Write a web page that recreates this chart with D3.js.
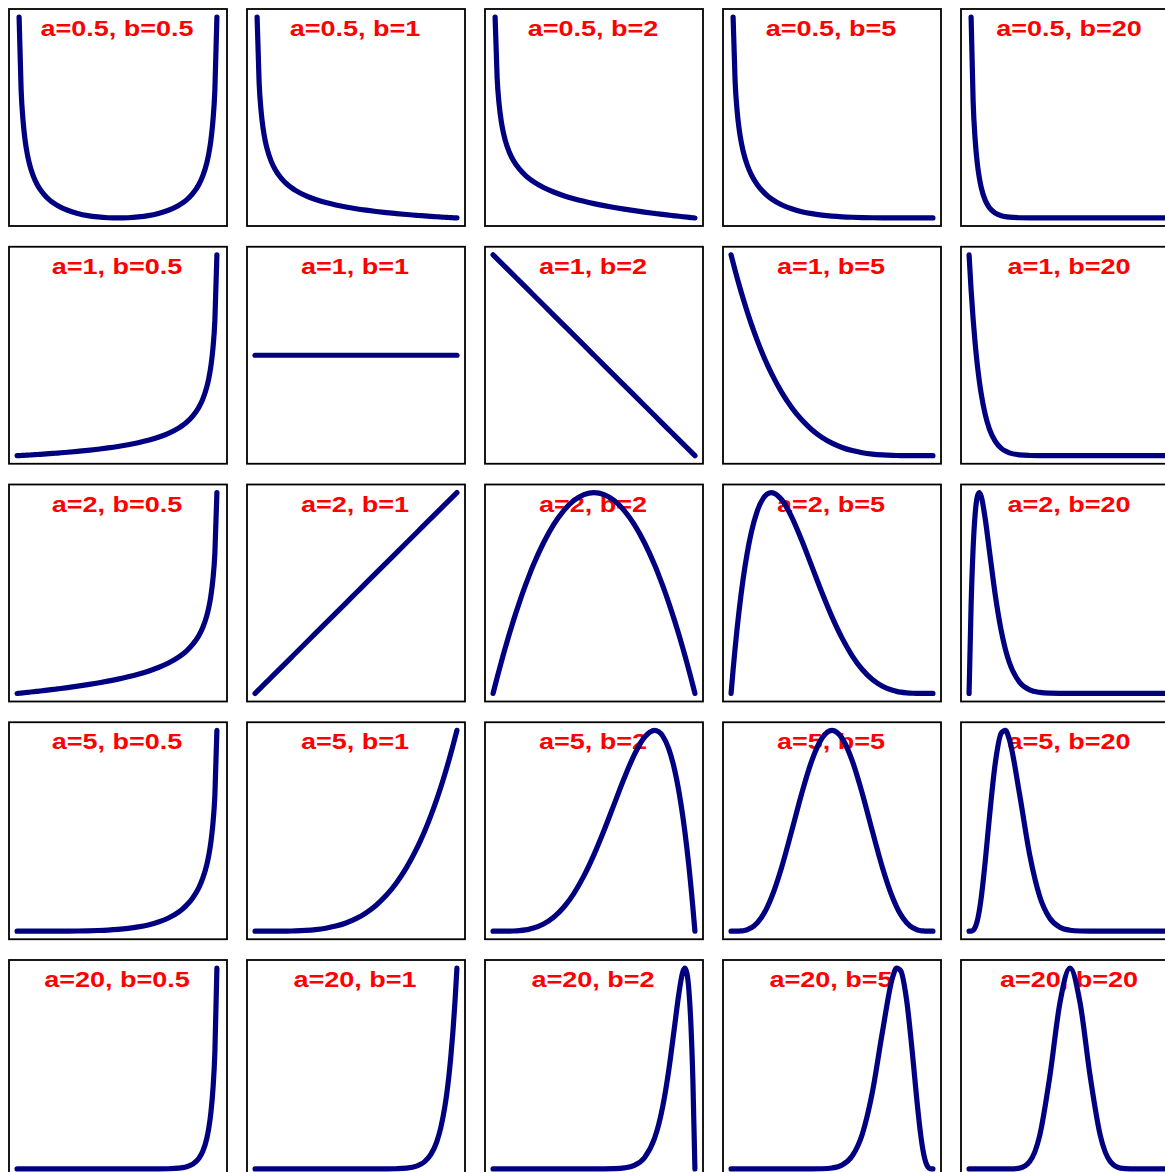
<!DOCTYPE html>
<html><head><meta charset="utf-8">
<script src="https://cdn.jsdelivr.net/npm/d3@7"></script>
<style>html,body{margin:0;padding:0;background:#fff}</style>
</head><body><svg id="chart" width="1165" height="1172"></svg>
<script>
// x positions where each density was read
const xGrid = [0,0.01,0.02,0.03,0.04,0.05,0.06,0.08,0.10,0.13,0.16,0.18,0.20,0.25,0.30,0.35,0.40,0.45,0.50,0.55,0.60,0.65,0.70,0.75,0.80,0.82,0.84,0.87,0.90,0.92,0.94,0.95,0.96,0.97,0.98,0.99,1];
const aValues = ["0.5","1","2","5","20"];
const bValues = ["0.5","1","2","5","20"];

// row a=0.5
const dens_a05_b05 = [null,3.199,2.274,1.866,1.624,1.461,1.340,1.173,1.061,0.947,0.868,0.829,0.796,0.735,0.695,0.667,0.650,0.640,0.637,0.640,0.650,0.667,0.695,0.735,0.796,0.829,0.868,0.947,1.061,1.173,1.340,1.461,1.624,1.866,2.274,3.199,null];
const dens_a05_b1 = [null,5.0,3.536,2.887,2.5,2.236,2.041,1.768,1.581,1.387,1.25,1.179,1.118,1.0,0.913,0.845,0.791,0.745,0.707,0.674,0.645,0.620,0.598,0.577,0.559,0.552,0.546,0.536,0.527,0.521,0.516,0.513,0.510,0.508,0.505,0.503,0.5];
const dens_a05_b2 = [null,7.425,5.197,4.200,3.600,3.186,2.878,2.440,2.134,1.810,1.575,1.450,1.342,1.125,0.959,0.824,0.711,0.615,0.530,0.455,0.387,0.326,0.269,0.217,0.168,0.149,0.131,0.105,0.079,0.063,0.046,0.038,0.031,0.023,0.015,0.0075,0];
const dens_a05_b5 = [null,11.82,8.026,6.290,5.225,4.482,3.921,3.117,2.553,1.956,1.532,1.311,1.127,0.779,0.539,0.371,0.252,0.168,0.109,0.068,0.0407,0.0229,0.0119,0.0056,0.0022,0.0014,0.0009,0.0004,0.0001,0.00005,0.00002,0.00001,0,0,0,0,0];
const dens_a05_b20 = [null,20.72,12.08,8.116,5.772,4.232,3.159,1.818,1.071,0.493,0.228,0.136,0.0808,0.0212,0.0052,0.0012,0.00024,0.00004,0.00001,0,0,0,0,0,0,0,0,0,0,0,0,0,0,0,0,0,0];
// row a=1
const dens_a1_b05 = [0.5,0.503,0.505,0.508,0.510,0.513,0.516,0.521,0.527,0.536,0.546,0.552,0.559,0.577,0.598,0.620,0.645,0.674,0.707,0.745,0.791,0.845,0.913,1.0,1.118,1.179,1.25,1.387,1.581,1.768,2.041,2.236,2.5,2.887,3.536,5.0,null];
const dens_a1_b1 = [1,1,1,1,1,1,1,1,1,1,1,1,1,1,1,1,1,1,1,1,1,1,1,1,1,1,1,1,1,1,1,1,1,1,1,1,1];
const dens_a1_b2 = [2,1.98,1.96,1.94,1.92,1.90,1.88,1.84,1.80,1.74,1.68,1.64,1.60,1.50,1.40,1.30,1.20,1.10,1.00,0.90,0.80,0.70,0.60,0.50,0.40,0.36,0.32,0.26,0.20,0.16,0.12,0.10,0.08,0.06,0.04,0.02,0];
const dens_a1_b5 = [5,4.803,4.612,4.427,4.247,4.073,3.904,3.582,3.281,2.865,2.490,2.261,2.048,1.582,1.201,0.893,0.648,0.458,0.3125,0.205,0.128,0.075,0.0405,0.0195,0.008,0.0053,0.0033,0.0014,0.0005,0.0002,0.00006,0.00003,0.00001,0,0,0,0];
const dens_a1_b20 = [20,16.52,13.62,11.21,9.208,7.548,6.172,4.102,2.702,1.419,0.728,0.461,0.288,0.0846,0.0228,0.0056,0.0012,0.00023,0.00004,0,0,0,0,0,0,0,0,0,0,0,0,0,0,0,0,0,0];
// row a=2
const dens_a2_b05 = [0,0.0075,0.015,0.023,0.031,0.038,0.046,0.063,0.079,0.105,0.131,0.149,0.168,0.217,0.269,0.326,0.387,0.455,0.530,0.615,0.711,0.824,0.959,1.125,1.342,1.450,1.575,1.810,2.134,2.440,2.878,3.186,3.600,4.200,5.197,7.425,null];
const dens_a2_b1 = [0,0.02,0.04,0.06,0.08,0.10,0.12,0.16,0.20,0.26,0.32,0.36,0.40,0.50,0.60,0.70,0.80,0.90,1.00,1.10,1.20,1.30,1.40,1.50,1.60,1.64,1.68,1.74,1.80,1.84,1.88,1.90,1.92,1.94,1.96,1.98,2];
const dens_a2_b2 = [0,0.0594,0.1176,0.1746,0.2304,0.285,0.3384,0.4416,0.54,0.6786,0.8064,0.8856,0.96,1.125,1.26,1.365,1.44,1.485,1.5,1.485,1.44,1.365,1.26,1.125,0.96,0.8856,0.8064,0.6786,0.54,0.4416,0.3384,0.285,0.2304,0.1746,0.1176,0.0594,0];
const dens_a2_b5 = [0,0.2882,0.5534,0.7968,1.019,1.222,1.405,1.719,1.968,2.234,2.390,2.441,2.458,2.373,2.161,1.874,1.555,1.235,0.9375,0.6766,0.4608,0.2926,0.1701,0.0879,0.0384,0.0258,0.0165,0.0075,0.0027,0.0011,0.00037,0.00018,0.00007,0.00002,0,0,0];
const dens_a2_b20 = [0,3.470,5.722,7.064,7.735,7.925,7.777,6.891,5.674,3.873,2.447,1.742,1.210,0.444,0.1436,0.0410,0.0102,0.0022,0.0004,0,0,0,0,0,0,0,0,0,0,0,0,0,0,0,0,0,0];
// row a=5
const dens_a5_b05 = [0,0,0,0,0,0.00001,0.00002,0.00005,0.0001,0.0004,0.0009,0.0014,0.0022,0.0056,0.0119,0.0229,0.0407,0.068,0.109,0.168,0.252,0.371,0.539,0.779,1.127,1.311,1.532,1.956,2.553,3.117,3.921,4.482,5.225,6.290,8.026,11.82,null];
const dens_a5_b1 = [0,0,0,0,0.00001,0.00003,0.00006,0.0002,0.0005,0.0014,0.0033,0.0053,0.008,0.0195,0.0405,0.075,0.128,0.205,0.3125,0.458,0.648,0.893,1.201,1.582,2.048,2.261,2.490,2.865,3.281,3.582,3.904,4.073,4.247,4.427,4.612,4.803,5];
const dens_a5_b2 = [0,0,0,0.00002,0.00007,0.00018,0.00037,0.0011,0.0027,0.0075,0.0165,0.0258,0.0384,0.0879,0.1701,0.2926,0.4608,0.6766,0.9375,1.235,1.555,1.874,2.161,2.373,2.458,2.441,2.390,2.234,1.968,1.719,1.405,1.222,1.019,0.7968,0.5534,0.2882,0];
const dens_a5_b5 = [0,0.000006,0.00009,0.00045,0.00137,0.00321,0.00637,0.0185,0.0413,0.1031,0.2056,0.2990,0.4129,0.7787,1.2252,1.6876,2.0902,2.3639,2.4609,2.3639,2.0902,1.6876,1.2252,0.7787,0.4129,0.2990,0.2056,0.1031,0.0413,0.0185,0.00637,0.00321,0.00137,0.00045,0.00009,0.000006,0];
const dens_a5_b20 = [0,0.00176,0.0232,0.0965,0.2505,0.5013,0.850,1.785,2.871,4.305,5.073,5.140,4.900,3.510,1.962,0.890,0.331,0.1015,0.0253,0.0050,0.00076,0.00008,0,0,0,0,0,0,0,0,0,0,0,0,0,0,0];
// row a=20
const dens_a20_b05 = [0,0,0,0,0,0,0,0,0,0,0,0,0,0,0,0,0,0,0.00001,0.00004,0.00024,0.0012,0.0052,0.0212,0.0808,0.136,0.228,0.493,1.071,1.818,3.159,4.232,5.772,8.116,12.08,20.72,null];
const dens_a20_b1 = [0,0,0,0,0,0,0,0,0,0,0,0,0,0,0,0,0,0,0.00004,0.00023,0.0012,0.0056,0.0228,0.0846,0.288,0.461,0.728,1.419,2.702,4.102,6.172,7.548,9.208,11.21,13.62,16.52,20];
const dens_a20_b2 = [0,0,0,0,0,0,0,0,0,0,0,0,0,0,0,0,0,0,0.0004,0.0022,0.0102,0.0410,0.1436,0.444,1.210,1.742,2.447,3.873,5.674,6.891,7.777,7.925,7.735,7.064,5.722,3.470,0];
const dens_a20_b5 = [0,0,0,0,0,0,0,0,0,0,0,0,0,0,0,0.00008,0.00076,0.0050,0.0253,0.1015,0.331,0.890,1.962,3.510,4.900,5.140,5.073,4.305,2.871,1.785,0.850,0.5013,0.2505,0.0965,0.0232,0.00176,0];
const dens_a20_b20 = [0,0,0,0,0,0,0,0,0,0.0000014,0.000038,0.000225,0.00104,0.0212,0.1826,0.8357,2.309,4.143,5.015,4.143,2.309,0.8357,0.1826,0.0212,0.00104,0.000225,0.000038,0.0000014,0,0,0,0,0,0,0,0,0];

const densityGrid = [
  [dens_a05_b05, dens_a05_b1, dens_a05_b2, dens_a05_b5, dens_a05_b20],
  [dens_a1_b05, dens_a1_b1, dens_a1_b2, dens_a1_b5, dens_a1_b20],
  [dens_a2_b05, dens_a2_b1, dens_a2_b2, dens_a2_b5, dens_a2_b20],
  [dens_a5_b05, dens_a5_b1, dens_a5_b2, dens_a5_b5, dens_a5_b20],
  [dens_a20_b05, dens_a20_b1, dens_a20_b2, dens_a20_b5, dens_a20_b20]
];

const svg = d3.select("#chart");
svg.append("rect").attr("width",1165).attr("height",1172).attr("fill","#fff");

const cellW = 238, cellH = 237.75, boxW = 218, boxH = 217, offX = 9, offY = 9;

function rExtend(lo, hi){
  if (lo === hi){ const d = Math.abs(lo)*0.4 || 1; lo -= d; hi += d; }
  const r = hi - lo;
  return [lo - 0.04*r, hi + 0.04*r];
}

aValues.forEach((a, r) => {
  bValues.forEach((b, c) => {
    const vals = densityGrid[r][c];
    const left = offX + c*cellW, top = offY + r*cellH;
    const g = svg.append("g");
    const x = d3.scaleLinear().domain(rExtend(0,1)).range([left, left+boxW]);
    const finite = vals.filter(v => v !== null);
    const y = d3.scaleLinear().domain(rExtend(d3.min(finite), d3.max(finite))).range([top+boxH, top]);

    g.append("rect").attr("x",left).attr("y",top).attr("width",boxW).attr("height",boxH)
      .attr("fill","none").attr("stroke","#000").attr("stroke-width",1.8);

    g.append("text")
      .attr("transform", `translate(${left+boxW/2-1},${top+27}) scale(1.2,1)`)
      .attr("text-anchor","middle")
      .attr("font-family","'Liberation Sans', Arial, Helvetica, sans-serif")
      .attr("font-weight","bold").attr("font-size",22.5).attr("fill","#ff0000")
      .text(`a=${a}, b=${b}`);

    const pts = xGrid.map((xv,i) => ({x: xv, y: vals[i]}));
    const line = d3.line().defined(d => d.y !== null)
      .x(d => x(d.x)).y(d => y(d.y)).curve(d3.curveMonotoneX);
    g.append("path").datum(pts).attr("d", line)
      .attr("fill","none").attr("stroke","#000080").attr("stroke-width",5.2)
      .attr("stroke-linejoin","round").attr("stroke-linecap","round");
  });
});
</script></body></html>
